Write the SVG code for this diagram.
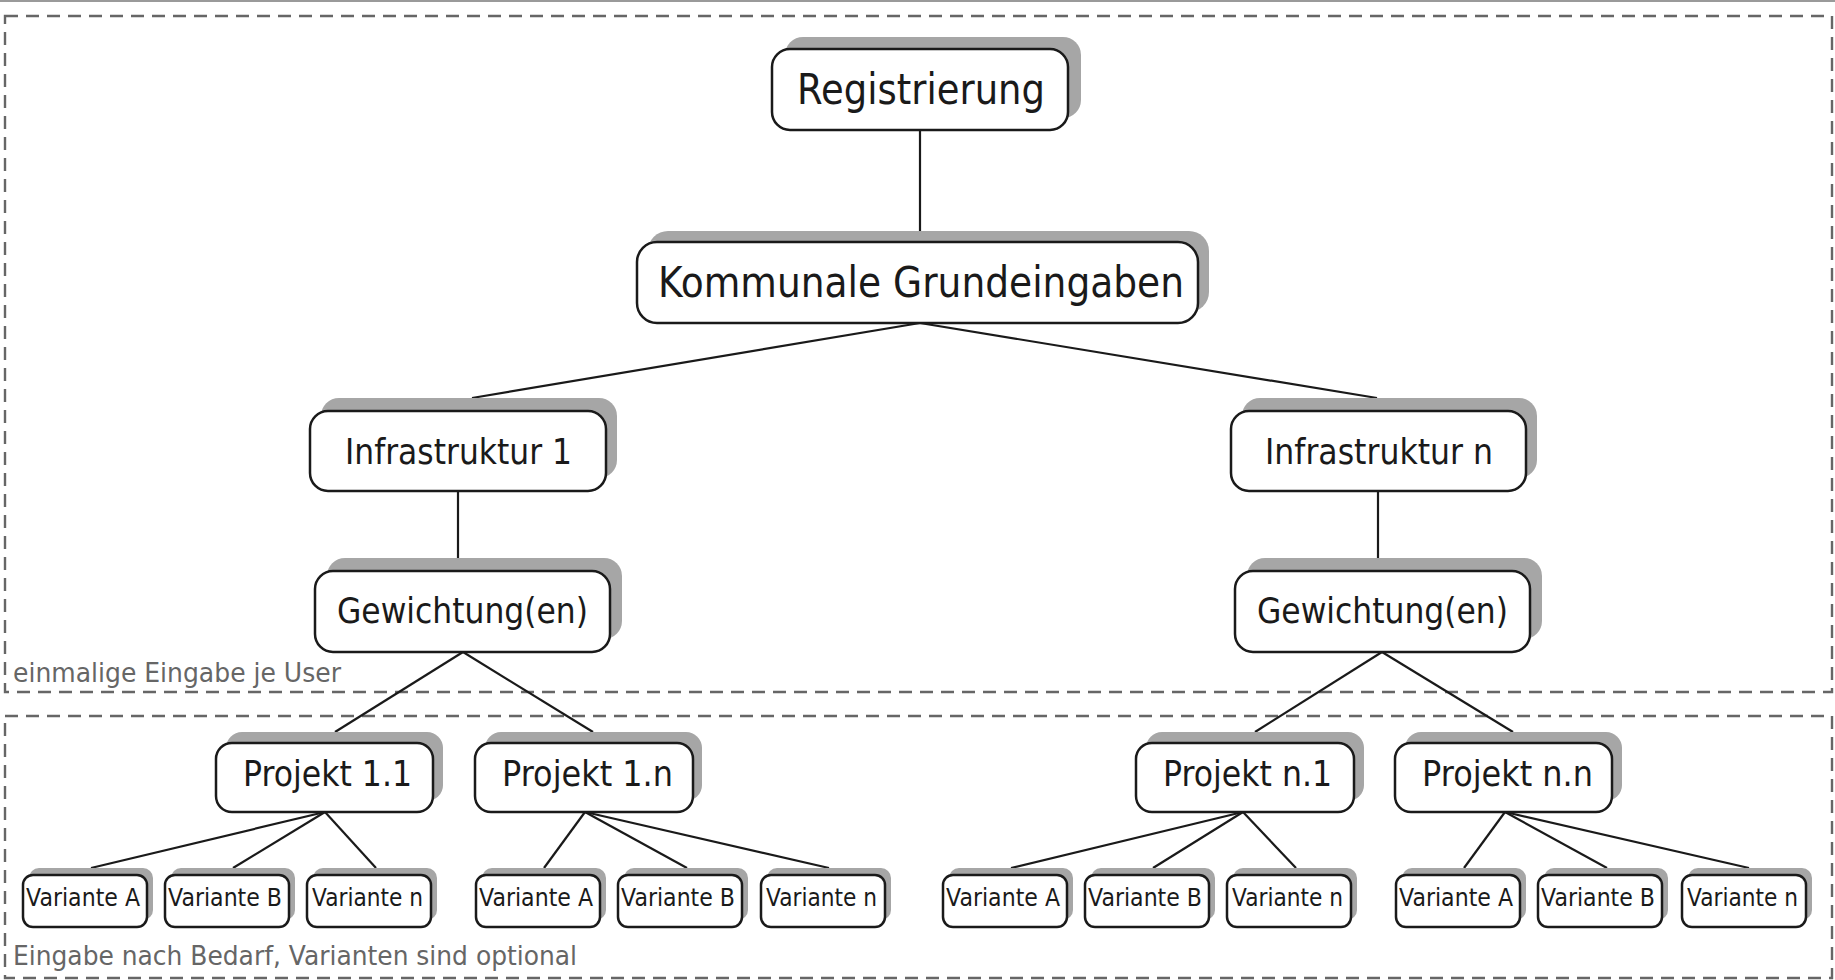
<svg xmlns="http://www.w3.org/2000/svg" width="1835" height="980" viewBox="0 0 1835 980">
<style>
.frame{fill:none;stroke:#666;stroke-width:2.4;stroke-dasharray:13 8}
.sh{fill:#a6a6a6;stroke:none}
.bx{fill:#fff;stroke:#1a1a1a;stroke-width:2.5}
.t{font-family:"DejaVu Sans","Liberation Sans",sans-serif;fill:#1a1a1a}
.big{font-size:42px}
.mid{font-size:35px}
.sm{font-size:25px}
.lbl{font-family:"DejaVu Sans","Liberation Sans",sans-serif;font-size:26px;fill:#666}
.c{stroke:#1a1a1a;stroke-width:2.2;fill:none}
</style>
<rect x="0" y="0" width="1835" height="980" fill="#fff"/>
<line x1="0" y1="1" x2="1835" y2="1" stroke="#9a9a9a" stroke-width="2"/>
<g id="frames">
<rect class="frame" x="5" y="16" width="1827" height="676"/>
<rect class="frame" x="5" y="716" width="1827" height="262"/>
<text class="lbl" x="13" y="682" textLength="328" lengthAdjust="spacingAndGlyphs">einmalige Eingabe je User</text>
<text class="lbl" x="13" y="965" textLength="564" lengthAdjust="spacingAndGlyphs">Eingabe nach Bedarf, Varianten sind optional</text>
</g>
<g id="connectors">
<line class="c" x1="920" y1="130" x2="920" y2="231"/>
<line class="c" x1="920" y1="323" x2="472" y2="398"/>
<line class="c" x1="920" y1="323" x2="1377" y2="398"/>
<line class="c" x1="458" y1="491" x2="458" y2="558"/>
<line class="c" x1="1378" y1="491" x2="1378" y2="558"/>
<line class="c" x1="463" y1="652" x2="335" y2="732"/>
<line class="c" x1="463" y1="652" x2="593" y2="732"/>
<line class="c" x1="1382" y1="652" x2="1255" y2="732"/>
<line class="c" x1="1382" y1="652" x2="1513" y2="732"/>
<line class="c" x1="325" y1="812" x2="91" y2="868"/>
<line class="c" x1="325" y1="812" x2="233" y2="868"/>
<line class="c" x1="325" y1="812" x2="376" y2="868"/>
<line class="c" x1="585" y1="812" x2="544" y2="868"/>
<line class="c" x1="585" y1="812" x2="687" y2="868"/>
<line class="c" x1="585" y1="812" x2="829" y2="868"/>
<line class="c" x1="1243" y1="812" x2="1011" y2="868"/>
<line class="c" x1="1243" y1="812" x2="1153" y2="868"/>
<line class="c" x1="1243" y1="812" x2="1296" y2="868"/>
<line class="c" x1="1505" y1="812" x2="1464" y2="868"/>
<line class="c" x1="1505" y1="812" x2="1607" y2="868"/>
<line class="c" x1="1505" y1="812" x2="1749" y2="868"/>
</g>
<g id="n-registrierung">
<rect class="sh" x="785" y="37" width="296" height="81" rx="18"/>
<rect class="bx" x="772" y="49" width="296" height="81" rx="18"/>
<text class="t big" x="797" y="104" textLength="248" lengthAdjust="spacingAndGlyphs">Registrierung</text>
</g>
<g id="n-kommunale">
<rect class="sh" x="648" y="231" width="561" height="81" rx="20"/>
<rect class="bx" x="637" y="242" width="561" height="81" rx="20"/>
<text class="t big" x="658" y="297" textLength="526" lengthAdjust="spacingAndGlyphs">Kommunale Grundeingaben</text>
</g>
<g id="n-infra1">
<rect class="sh" x="321" y="398" width="296" height="80" rx="18"/>
<rect class="bx" x="310" y="411" width="296" height="80" rx="18"/>
<text class="t mid" x="345" y="464" textLength="227" lengthAdjust="spacingAndGlyphs">Infrastruktur 1</text>
</g>
<g id="n-infran">
<rect class="sh" x="1242" y="398" width="295" height="80" rx="18"/>
<rect class="bx" x="1231" y="411" width="295" height="80" rx="18"/>
<text class="t mid" x="1265" y="464" textLength="228" lengthAdjust="spacingAndGlyphs">Infrastruktur n</text>
</g>
<g id="n-gew1">
<rect class="sh" x="327" y="558" width="295" height="81" rx="18"/>
<rect class="bx" x="315" y="571" width="295" height="81" rx="18"/>
<text class="t mid" x="337" y="623" textLength="251" lengthAdjust="spacingAndGlyphs">Gewichtung(en)</text>
</g>
<g id="n-gewn">
<rect class="sh" x="1247" y="558" width="295" height="81" rx="18"/>
<rect class="bx" x="1235" y="571" width="295" height="81" rx="18"/>
<text class="t mid" x="1257" y="623" textLength="251" lengthAdjust="spacingAndGlyphs">Gewichtung(en)</text>
</g>
<g id="n-p11">
<rect class="sh" x="226" y="732" width="217" height="69" rx="16"/>
<rect class="bx" x="216" y="743" width="217" height="69" rx="16"/>
<text class="t mid" x="243" y="786" textLength="169" lengthAdjust="spacingAndGlyphs">Projekt 1.1</text>
</g>
<g id="n-p1n">
<rect class="sh" x="485" y="732" width="217" height="69" rx="16"/>
<rect class="bx" x="475" y="743" width="218" height="69" rx="16"/>
<text class="t mid" x="502" y="786" textLength="171" lengthAdjust="spacingAndGlyphs">Projekt 1.n</text>
</g>
<g id="n-pn1">
<rect class="sh" x="1146" y="732" width="218" height="69" rx="16"/>
<rect class="bx" x="1136" y="743" width="218" height="69" rx="16"/>
<text class="t mid" x="1163" y="786" textLength="169" lengthAdjust="spacingAndGlyphs">Projekt n.1</text>
</g>
<g id="n-pnn">
<rect class="sh" x="1405" y="732" width="217" height="69" rx="16"/>
<rect class="bx" x="1395" y="743" width="217" height="69" rx="16"/>
<text class="t mid" x="1422" y="786" textLength="171" lengthAdjust="spacingAndGlyphs">Projekt n.n</text>
</g>
<g id="v11a"><rect class="sh" x="29" y="868" width="124" height="52" rx="10"/><rect class="bx" x="23" y="875" width="124" height="52" rx="10"/><text class="t sm" x="26" y="906" textLength="114" lengthAdjust="spacingAndGlyphs">Variante A</text></g>
<g id="v11b"><rect class="sh" x="171" y="868" width="124" height="52" rx="10"/><rect class="bx" x="165" y="875" width="124" height="52" rx="10"/><text class="t sm" x="168" y="906" textLength="114" lengthAdjust="spacingAndGlyphs">Variante B</text></g>
<g id="v11n"><rect class="sh" x="313" y="868" width="124" height="52" rx="10"/><rect class="bx" x="307" y="875" width="124" height="52" rx="10"/><text class="t sm" x="312" y="906" textLength="111" lengthAdjust="spacingAndGlyphs">Variante n</text></g>
<g id="v1na"><rect class="sh" x="482" y="868" width="124" height="52" rx="10"/><rect class="bx" x="476" y="875" width="124" height="52" rx="10"/><text class="t sm" x="479" y="906" textLength="114" lengthAdjust="spacingAndGlyphs">Variante A</text></g>
<g id="v1nb"><rect class="sh" x="624" y="868" width="124" height="52" rx="10"/><rect class="bx" x="618" y="875" width="124" height="52" rx="10"/><text class="t sm" x="621" y="906" textLength="114" lengthAdjust="spacingAndGlyphs">Variante B</text></g>
<g id="v1nn"><rect class="sh" x="767" y="868" width="124" height="52" rx="10"/><rect class="bx" x="761" y="875" width="124" height="52" rx="10"/><text class="t sm" x="766" y="906" textLength="111" lengthAdjust="spacingAndGlyphs">Variante n</text></g>
<g id="vn1a"><rect class="sh" x="949" y="868" width="124" height="52" rx="10"/><rect class="bx" x="943" y="875" width="124" height="52" rx="10"/><text class="t sm" x="946" y="906" textLength="114" lengthAdjust="spacingAndGlyphs">Variante A</text></g>
<g id="vn1b"><rect class="sh" x="1091" y="868" width="124" height="52" rx="10"/><rect class="bx" x="1085" y="875" width="124" height="52" rx="10"/><text class="t sm" x="1088" y="906" textLength="114" lengthAdjust="spacingAndGlyphs">Variante B</text></g>
<g id="vn1n"><rect class="sh" x="1233" y="868" width="124" height="52" rx="10"/><rect class="bx" x="1227" y="875" width="124" height="52" rx="10"/><text class="t sm" x="1232" y="906" textLength="111" lengthAdjust="spacingAndGlyphs">Variante n</text></g>
<g id="vnna"><rect class="sh" x="1402" y="868" width="124" height="52" rx="10"/><rect class="bx" x="1396" y="875" width="124" height="52" rx="10"/><text class="t sm" x="1399" y="906" textLength="114" lengthAdjust="spacingAndGlyphs">Variante A</text></g>
<g id="vnnb"><rect class="sh" x="1544" y="868" width="124" height="52" rx="10"/><rect class="bx" x="1538" y="875" width="124" height="52" rx="10"/><text class="t sm" x="1541" y="906" textLength="114" lengthAdjust="spacingAndGlyphs">Variante B</text></g>
<g id="vnnn"><rect class="sh" x="1688" y="868" width="124" height="52" rx="10"/><rect class="bx" x="1682" y="875" width="124" height="52" rx="10"/><text class="t sm" x="1687" y="906" textLength="111" lengthAdjust="spacingAndGlyphs">Variante n</text></g>
</svg>
